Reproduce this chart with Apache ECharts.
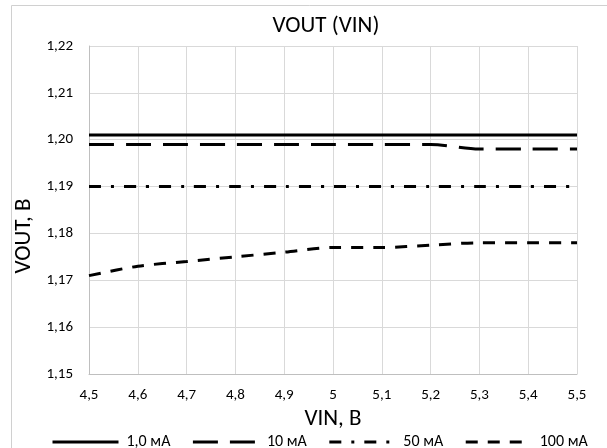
<!DOCTYPE html>
<html>
<head>
<meta charset="utf-8">
<script src="https://cdn.jsdelivr.net/npm/echarts@6/dist/echarts.min.js"></script>
<style>
  html, body { margin: 0; padding: 0; background: #fff; }
  #chart { width: 607px; height: 448px; }
</style>
</head>
<body>
<div id="chart"></div>
<script>
// Input voltage, V
const vin = [4.5, 4.6, 4.7, 4.8, 4.9, 5.0, 5.1, 5.2, 5.3, 5.4, 5.5];

// Output voltage, V, per load current
const seriesNames = ['1,0 мА', '10 мА', '50 мА', '100 мА'];
const vout1mA   = [1.201, 1.201, 1.201, 1.201, 1.201, 1.201, 1.201, 1.201, 1.201, 1.201, 1.201];
const vout10mA  = [1.199, 1.199, 1.199, 1.199, 1.199, 1.199, 1.199, 1.199, 1.198, 1.198, 1.198];
const vout50mA  = [1.190, 1.190, 1.190, 1.190, 1.190, 1.190, 1.190, 1.190, 1.190, 1.190, 1.190];
const vout100mA = [1.171, 1.173, 1.174, 1.175, 1.176, 1.177, 1.177, 1.1775, 1.178, 1.178, 1.178];

const FONT = 'Carlito, Calibri, Lato, sans-serif';

const pairs = (ys) => vin.map((x, i) => [x, ys[i]]);

const lineStyles = [
  { type: 'solid' },
  { type: [25, 12] },
  { type: [12, 10, 3, 10] },
  { type: [12, 10] }
];
const values = [vout1mA, vout10mA, vout50mA, vout100mA];

const chart = echarts.init(document.getElementById('chart'), null, { renderer: 'canvas' });

chart.setOption({
  animation: false,
  backgroundColor: '#ffffff',
  title: {
    text: 'VOUT (VIN)',
    left: 321,
    textAlign: 'center',
    top: 10,
    textStyle: { fontFamily: FONT, fontSize: 23, fontWeight: 'normal', color: '#000' }
  },
  graphic: [{
    type: 'rect',
    shape: { x: 11.5, y: 5.5, width: 620, height: 460 },
    style: { fill: 'none', stroke: '#d0d0d0', lineWidth: 1 },
    silent: true
  }],
  legend: {
    left: 46,
    top: 429,
    itemWidth: 66,
    itemHeight: 14,
    itemGap: 21,
    data: seriesNames,
    itemStyle: { opacity: 0, borderWidth: 0 },
    lineStyle: { width: 3 },
    textStyle: { fontFamily: FONT, fontSize: 16, color: '#000', padding: [0, 0, 0, 3] }
  },
  grid: { left: 89, right: 30, top: 46, bottom: 74, containLabel: false },
  xAxis: {
    type: 'value',
    min: 4.5,
    max: 5.5,
    interval: 0.1,
    name: 'VIN, В',
    nameLocation: 'middle',
    nameGap: 29,
    nameTextStyle: { fontFamily: FONT, fontSize: 23, color: '#000' },
    axisLine: { show: true, lineStyle: { color: '#bfbfbf', width: 1 } },
    axisTick: { show: false },
    splitLine: { show: true, lineStyle: { color: '#d9d9d9', width: 1 } },
    axisLabel: {
      margin: 14,
      fontFamily: FONT, fontSize: 15, color: '#000',
      formatter: (v) => String(Math.round(v * 10) / 10).replace('.', ',')
    }
  },
  yAxis: {
    type: 'value',
    min: 1.15,
    max: 1.22,
    interval: 0.01,
    name: 'VOUT, В',
    nameLocation: 'middle',
    nameGap: 48,
    nameTextStyle: { fontFamily: FONT, fontSize: 23, color: '#000', padding: [0, 52, 0, 0] },
    axisLine: { show: true, lineStyle: { color: '#bfbfbf', width: 1 } },
    axisTick: { show: false },
    splitLine: { show: true, lineStyle: { color: '#d9d9d9', width: 1 } },
    axisLabel: {
      margin: 16,
      fontFamily: FONT, fontSize: 15, color: '#000',
      formatter: (v) => v.toFixed(2).replace('.', ',')
    }
  },
  series: seriesNames.map((name, i) => ({
    name,
    type: 'line',
    data: pairs(values[i]),
    smooth: 0.3,
    showSymbol: false,
    symbol: 'none',
    color: '#000',
    lineStyle: Object.assign({ color: '#000', width: 3, cap: 'butt' }, lineStyles[i]),
    z: 10 - i
  }))
});
</script>
</body>
</html>
